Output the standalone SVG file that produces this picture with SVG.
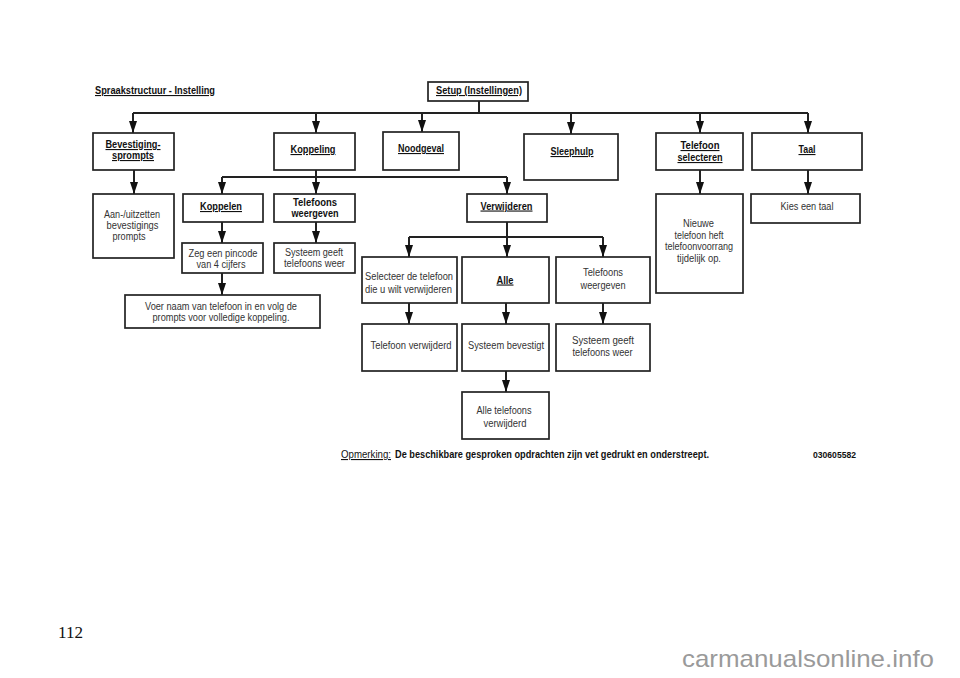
<svg xmlns="http://www.w3.org/2000/svg" width="960" height="678" viewBox="0 0 960 678">
<style>
  .box{fill:#fff;stroke:#222;stroke-width:1.7}
  .ln{fill:none;stroke:#222;stroke-width:2}
  .b{font-family:"Liberation Sans",Arial,sans-serif;font-weight:bold;font-size:11px;fill:#111;text-anchor:middle}
  .u{text-decoration:underline}
  .r{font-family:"Liberation Sans",Arial,sans-serif;font-size:10px;fill:#333;text-anchor:middle}
  .n{font-family:"Liberation Sans",Arial,sans-serif;font-size:11px;fill:#111}
</style>
<defs>
  <marker id="ah" markerUnits="userSpaceOnUse" markerWidth="12" markerHeight="10" refX="12" refY="4" orient="auto" viewBox="0 0 12 8">
    <path d="M0,0 L12,4 L0,8 z" fill="#111"/>
  </marker>
</defs>
<rect width="960" height="678" fill="#fff"/>

<text class="b u" x="155" y="94" textLength="120" lengthAdjust="spacingAndGlyphs">Spraakstructuur - Instelling</text>

<g id="connectors">
  <path class="ln" d="M479,101 V113 M133,113 H808"/>
  <path class="ln" d="M133,113 V133" marker-end="url(#ah)"/>
  <path class="ln" d="M316,113 V133" marker-end="url(#ah)"/>
  <path class="ln" d="M422,113 V132" marker-end="url(#ah)"/>
  <path class="ln" d="M571,113 V134" marker-end="url(#ah)"/>
  <path class="ln" d="M700,113 V133" marker-end="url(#ah)"/>
  <path class="ln" d="M808,113 V133" marker-end="url(#ah)"/>
  <path class="ln" d="M134,170 V194" marker-end="url(#ah)"/>
  <path class="ln" d="M316,170 V194" marker-end="url(#ah)"/>
  <path class="ln" d="M222,177 H507"/>
  <path class="ln" d="M222,177 V194" marker-end="url(#ah)"/>
  <path class="ln" d="M507,177 V194" marker-end="url(#ah)"/>
  <path class="ln" d="M222,222 V243" marker-end="url(#ah)"/>
  <path class="ln" d="M316,222 V243" marker-end="url(#ah)"/>
  <path class="ln" d="M222,273 V295" marker-end="url(#ah)"/>
  <path class="ln" d="M507,222 V237 M409,237 H603"/>
  <path class="ln" d="M409,237 V257" marker-end="url(#ah)"/>
  <path class="ln" d="M507,237 V257" marker-end="url(#ah)"/>
  <path class="ln" d="M603,237 V257" marker-end="url(#ah)"/>
  <path class="ln" d="M409,303 V324" marker-end="url(#ah)"/>
  <path class="ln" d="M506,303 V324" marker-end="url(#ah)"/>
  <path class="ln" d="M603,303 V324" marker-end="url(#ah)"/>
  <path class="ln" d="M506,371 V392" marker-end="url(#ah)"/>
  <path class="ln" d="M700,170 V194" marker-end="url(#ah)"/>
  <path class="ln" d="M808,170 V194" marker-end="url(#ah)"/>
</g>

<g id="setup">
  <rect class="box" x="428" y="82" width="100" height="19"/>
  <text class="b u" x="479" y="94" textLength="86" lengthAdjust="spacingAndGlyphs">Setup (Instellingen)</text>
</g>
<g id="bevestiging">
  <rect class="box" x="93" y="133" width="81" height="37"/>
  <text class="b u" x="133" y="148" textLength="55" lengthAdjust="spacingAndGlyphs">Bevestiging-</text>
  <text class="b u" x="133" y="159" textLength="42" lengthAdjust="spacingAndGlyphs">sprompts</text>
</g>
<g id="koppeling">
  <rect class="box" x="274" y="133" width="81" height="37"/>
  <text class="b u" x="313" y="153" textLength="45" lengthAdjust="spacingAndGlyphs">Koppeling</text>
</g>
<g id="noodgeval">
  <rect class="box" x="383" y="132" width="76" height="38"/>
  <text class="b u" x="421" y="152" textLength="46" lengthAdjust="spacingAndGlyphs">Noodgeval</text>
</g>
<g id="sleephulp">
  <rect class="box" x="524" y="134" width="94" height="46"/>
  <text class="b u" x="572" y="155" textLength="43" lengthAdjust="spacingAndGlyphs">Sleephulp</text>
</g>
<g id="telefoon-selecteren">
  <rect class="box" x="656" y="133" width="87" height="37"/>
  <text class="b u" x="700" y="149" textLength="39" lengthAdjust="spacingAndGlyphs">Telefoon </text>
  <text class="b u" x="700" y="161" textLength="45" lengthAdjust="spacingAndGlyphs">selecteren</text>
</g>
<g id="taal">
  <rect class="box" x="752" y="133" width="110" height="37"/>
  <text class="b u" x="807" y="153" textLength="17" lengthAdjust="spacingAndGlyphs">Taal</text>
</g>
<g id="aan-uitzetten">
  <rect class="box" x="93" y="194" width="81" height="64"/>
  <text class="r" x="132" y="218" textLength="56" lengthAdjust="spacingAndGlyphs">Aan-/uitzetten</text>
  <text class="r" x="132.5" y="229" textLength="52" lengthAdjust="spacingAndGlyphs">bevestigings</text>
  <text class="r" x="129" y="240" textLength="33" lengthAdjust="spacingAndGlyphs">prompts</text>
</g>
<g id="koppelen">
  <rect class="box" x="183" y="194" width="80" height="28"/>
  <text class="b u" x="221" y="210" textLength="42" lengthAdjust="spacingAndGlyphs">Koppelen</text>
</g>
<g id="telefoons-weergeven-1">
  <rect class="box" x="274" y="194" width="81" height="28"/>
  <text class="b" x="315" y="206" textLength="44" lengthAdjust="spacingAndGlyphs">Telefoons</text>
  <text class="b" x="315" y="217" textLength="47" lengthAdjust="spacingAndGlyphs">weergeven</text>
</g>
<g id="verwijderen">
  <rect class="box" x="467" y="194" width="80" height="28"/>
  <text class="b u" x="506.5" y="209.5" textLength="52" lengthAdjust="spacingAndGlyphs">Verwijderen</text>
</g>
<g id="nieuwe">
  <rect class="box" x="656" y="194" width="87" height="99"/>
  <text class="r" x="698.5" y="227" textLength="31" lengthAdjust="spacingAndGlyphs">Nieuwe</text>
  <text class="r" x="699" y="238.5" textLength="49" lengthAdjust="spacingAndGlyphs">telefoon heft</text>
  <text class="r" x="699" y="250" textLength="68" lengthAdjust="spacingAndGlyphs">telefoonvoorrang</text>
  <text class="r" x="699" y="261.5" textLength="44" lengthAdjust="spacingAndGlyphs">tijdelijk op.</text>
</g>
<g id="kies-een-taal">
  <rect class="box" x="751" y="194" width="109" height="29"/>
  <text class="r" x="807" y="210" textLength="53" lengthAdjust="spacingAndGlyphs">Kies een taal</text>
</g>
<g id="zeg-pincode">
  <rect class="box" x="182" y="243" width="81" height="30"/>
  <text class="r" x="223" y="256.5" textLength="69" lengthAdjust="spacingAndGlyphs">Zeg een pincode</text>
  <text class="r" x="221" y="267.5" textLength="49" lengthAdjust="spacingAndGlyphs">van 4 cijfers</text>
</g>
<g id="systeem-geeft-1">
  <rect class="box" x="274" y="243" width="81" height="30"/>
  <text class="r" x="314" y="256" textLength="58" lengthAdjust="spacingAndGlyphs">Systeem geeft</text>
  <text class="r" x="314.5" y="266.5" textLength="61" lengthAdjust="spacingAndGlyphs">telefoons weer</text>
</g>
<g id="voer-naam">
  <rect class="box" x="125" y="295" width="195" height="33"/>
  <text class="r" x="221" y="310" textLength="152" lengthAdjust="spacingAndGlyphs">Voer naam van telefoon in en volg de</text>
  <text class="r" x="221" y="320.5" textLength="137" lengthAdjust="spacingAndGlyphs">prompts voor volledige koppeling.</text>
</g>
<g id="selecteer">
  <rect class="box" x="362" y="257" width="95" height="46"/>
  <text class="r" x="409" y="279.5" textLength="88" lengthAdjust="spacingAndGlyphs">Selecteer de telefoon</text>
  <text class="r" x="408.5" y="292.5" textLength="87" lengthAdjust="spacingAndGlyphs">die u wilt verwijderen</text>
</g>
<g id="alle">
  <rect class="box" x="462" y="257" width="87" height="46"/>
  <text class="b u" x="505" y="283.5" textLength="17" lengthAdjust="spacingAndGlyphs">Alle</text>
</g>
<g id="telefoons-weergeven-2">
  <rect class="box" x="556" y="257" width="94" height="46"/>
  <text class="r" x="603" y="276" textLength="40" lengthAdjust="spacingAndGlyphs">Telefoons</text>
  <text class="r" x="603" y="288.5" textLength="45" lengthAdjust="spacingAndGlyphs">weergeven</text>
</g>
<g id="telefoon-verwijderd">
  <rect class="box" x="362" y="324" width="95" height="47"/>
  <text class="r" x="411" y="348.5" textLength="81" lengthAdjust="spacingAndGlyphs">Telefoon verwijderd</text>
</g>
<g id="systeem-bevestigt">
  <rect class="box" x="462" y="324" width="87" height="47"/>
  <text class="r" x="506" y="348.5" textLength="76" lengthAdjust="spacingAndGlyphs">Systeem bevestigt</text>
</g>
<g id="systeem-geeft-2">
  <rect class="box" x="556" y="324" width="94" height="47"/>
  <text class="r" x="603" y="344" textLength="62" lengthAdjust="spacingAndGlyphs">Systeem geeft</text>
  <text class="r" x="602.5" y="356" textLength="60" lengthAdjust="spacingAndGlyphs">telefoons weer</text>
</g>
<g id="alle-telefoons-verwijderd">
  <rect class="box" x="462" y="392" width="87" height="47"/>
  <text class="r" x="504" y="414" textLength="55" lengthAdjust="spacingAndGlyphs">Alle telefoons</text>
  <text class="r" x="505" y="427" textLength="43" lengthAdjust="spacingAndGlyphs">verwijderd</text>
</g>

<g id="note">
  <text class="n u" x="341" y="458" textLength="50" lengthAdjust="spacingAndGlyphs">Opmerking:</text>
  <text class="n" x="395" y="458" font-weight="bold" textLength="314" lengthAdjust="spacingAndGlyphs">De beschikbare gesproken opdrachten zijn vet gedrukt en onderstreept.</text>
  <text x="813" y="458" font-family="'Liberation Sans',Arial,sans-serif" font-size="9" font-weight="bold" fill="#111" textLength="43" lengthAdjust="spacingAndGlyphs">030605582</text>
</g>

<text x="58" y="638" font-family="'Liberation Serif','Times New Roman',serif" font-size="17" fill="#111" textLength="25" lengthAdjust="spacingAndGlyphs">112</text>
<text x="682" y="667" font-family="'Liberation Sans',Arial,sans-serif" font-size="24" fill="#9a9a9a" textLength="252" lengthAdjust="spacingAndGlyphs">carmanualsonline.info</text>
</svg>
